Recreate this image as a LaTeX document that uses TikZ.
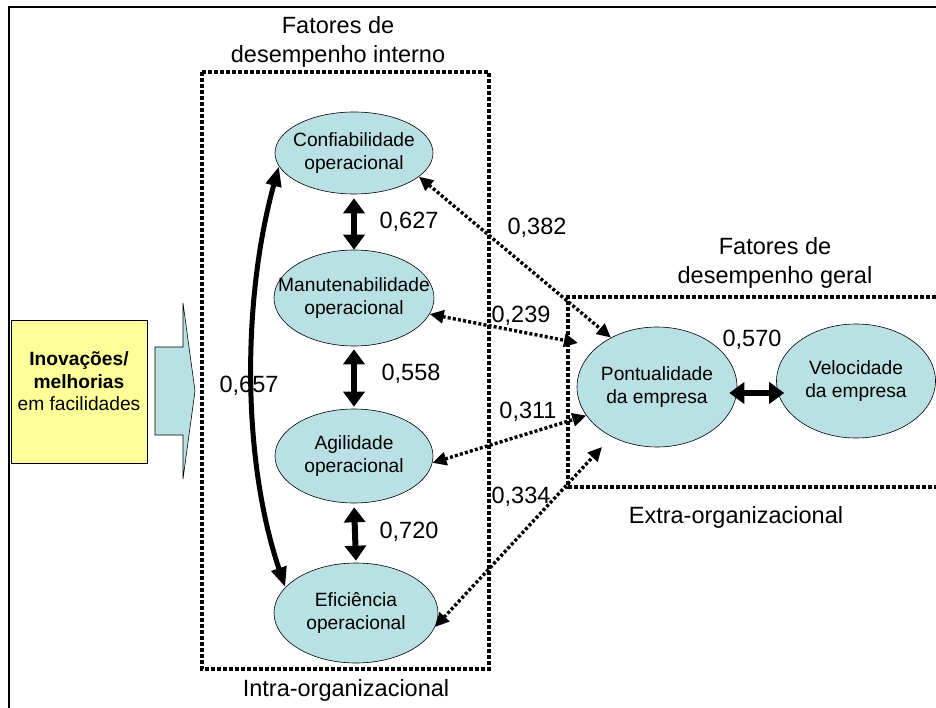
\documentclass[tikz,border=0pt]{standalone}
\usepackage{fontspec}
\setmainfont{Liberation Sans}
\usetikzlibrary{shapes.geometric,arrows.meta}
\definecolor{ellfill}{RGB}{185,224,226}
\definecolor{boxfill}{RGB}{255,255,153}
\begin{document}
\begin{tikzpicture}[x=1pt,y=-1pt,
  ell/.style={ellipse, draw=black, line width=0.6pt, fill=ellfill, inner sep=0pt},
  elltext/.style={align=center, font=\fontsize{19.2}{22.5}\selectfont, inner sep=0pt},
  num/.style={font=\fontsize{23.5}{28}\selectfont, inner sep=0pt},
  title/.style={align=center, font=\fontsize{23.5}{29}\selectfont, inner sep=0pt},
  dotframe/.style={line width=4.3pt, dash pattern=on 3.8pt off 2.2pt},
  dotarrow/.style={line width=3.4pt, dash pattern=on 3pt off 2.2pt,
    {Triangle[length=14pt,width=13pt]}-{Triangle[length=14pt,width=13pt]}},
  thickarrow/.style={line width=6pt,
    {Triangle[length=15pt,width=21pt]}-{Triangle[length=15pt,width=21pt]}},
  curvearrow/.style={line width=5pt,
    {Triangle[length=20pt,width=15pt]}-{Triangle[length=20pt,width=15pt]}},
]
\useasboundingbox (0,0) rectangle (936,708);

% page frame
\draw[line width=2.2pt] (9,708) -- (9,7) -- (936,7);

% input box and block arrow
\node[draw, fill=boxfill, line width=0.6pt, minimum width=136pt, minimum height=143pt,
  inner sep=0pt,
  label={[elltext, yshift=10pt]center:\textbf{Inovações/}\\\textbf{melhorias}\\em facilidades}]
  (inov) at (79,391.5) {};
\draw[fill=ellfill, line width=0.6pt] (155,347) -- (183,347) -- (183,303) -- (195,391)
  -- (183,479) -- (183,435) -- (155,435) -- cycle;

% group frames
\draw[dotframe] (202,72) rectangle (489,669);
\draw[dotframe] (936,297) -- (568,297) -- (568,487) -- (936,487);

\node[title] (tint) at (338,42) {Fatores de\\desempenho interno};
\node[title] (lint) at (346,690) {Intra-organizacional};
\node[title] (tger) at (775,263) {Fatores de\\desempenho geral};
\node[title] (lext) at (736,517) {Extra-organizacional};

% internal factors
\node[ell, minimum width=158pt, minimum height=82pt,
  label={[elltext]center:Confiabilidade\\operacional}] (conf) at (354,153) {};
\node[ell, minimum width=160pt, minimum height=96pt,
  label={[elltext]center:Manutenabilidade\\operacional}] (manut) at (354,298) {};
\node[ell, minimum width=158pt, minimum height=94pt,
  label={[elltext]center:Agilidade\\operacional}] (agil) at (354,456) {};
\node[ell, minimum width=164pt, minimum height=100pt,
  label={[elltext]center:Eficiência\\operacional}] (effic) at (356,613) {};

% general factors
\node[ell, minimum width=160pt, minimum height=120pt,
  label={[elltext]center:Pontualidade\\da empresa}] (pont) at (657,387) {};
\node[ell, minimum width=159pt, minimum height=114pt,
  label={[elltext]center:Velocidade\\da empresa}] (velo) at (856,381) {};

% coefficients
\node[num] (c627) at (409,222) {0,627};
\node[num] (c558) at (411,374) {0,558};
\node[num] (c720) at (409,532) {0,720};
\node[num] (c657) at (249,386) {0,657};
\node[num] (c382) at (537,228) {0,382};
\node[num] (c239) at (521,316) {0,239};
\node[num] (c311) at (528,412) {0,311};
\node[num] (c334) at (521,497) {0,334};
\node[num] (c570) at (752,340) {0,570};

% correlations among internal factors
\draw[thickarrow, shorten <=4pt] (conf.south) -- (manut.north);
\draw[thickarrow, shorten <=3pt, shorten >=2pt] (manut.south) -- (agil.north);
\draw[thickarrow, shorten <=4pt, shorten >=2pt] (agil.south) -- (effic.north);
\draw[curvearrow] (conf.190) .. controls (242,300) and (242,460) .. (effic.160);

% correlation between general factors
\draw[thickarrow, shorten <=-8pt, shorten >=-8pt]
  ([yshift=-6pt]pont.east) -- ([yshift=-12pt]velo.west);

% internal to general
\coordinate (pmanut) at (578,343);
\coordinate (pefic) at (602,447);
\draw[dotarrow] (conf.-20) -- (pont.133);
\draw[dotarrow] (manut.-12) -- (pmanut);
\draw[dotarrow] (agil.-5) -- (pont.202);
\draw[dotarrow] (effic.-10) -- (pefic);
\end{tikzpicture}
\end{document}
